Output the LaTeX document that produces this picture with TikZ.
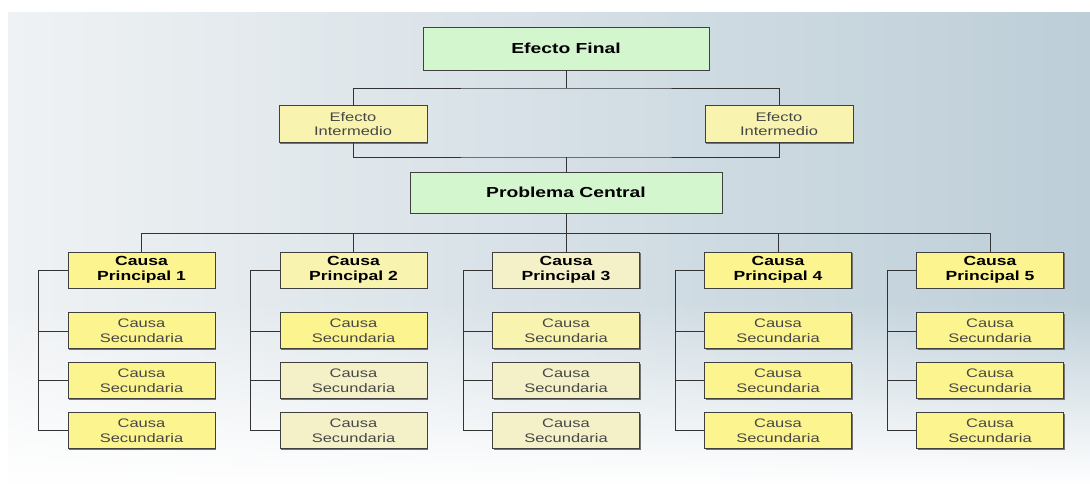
\documentclass[tikz,border=0pt]{standalone}
\usepackage{fontspec}
\setsansfont{Liberation Sans}[FakeStretch=1.33]
\usetikzlibrary{positioning,shadows,fadings}
\definecolor{bgl}{HTML}{EFF2F4}
\definecolor{bgr}{HTML}{BDCED8}
\definecolor{fgreen}{HTML}{D3F6CF}
\definecolor{ymain}{HTML}{FCF48F}
\definecolor{ymid}{HTML}{F8F3AE}
\definecolor{ypale}{HTML}{F4F1C9}

\begin{document}
\begin{tikzpicture}[
  x=1pt, y=-1pt,
  box/.style={fill=#1, draw=black!75, line width=0.9pt, minimum width=147pt, minimum height=36pt,
              inner sep=0pt, align=center, text=black!72, font=\sffamily\fontsize{12.4}{14.8}\selectfont,
              drop shadow={shadow xshift=1.2pt, shadow yshift=-1.2pt, fill=black!55, opacity=1}},
  bbox/.style={box=#1, text=black, font=\sffamily\bfseries\fontsize{13.2}{15.5}\selectfont},
  hdbox/.style={bbox=#1, font=\sffamily\bfseries\fontsize{14.5}{16}\selectfont},
  link/.style={draw=black!80, line width=0.8pt},
]
\useasboundingbox (0,0) rectangle (1090,484);
% Background panel
\fill[left color=bgl, right color=bgr] (8,13) rectangle (1090,484);
\fill[white, path fading=north] (8,300) rectangle (1090,484);

% Effects and central problem
\node[hdbox=fgreen, minimum width=286pt, minimum height=43pt] (ef) at (566,48.5) {Efecto Final};
\node[box=ymid, minimum width=148pt, minimum height=37pt] (ei1) at (353,124) {Efecto\\Intermedio};
\node[box=ymid, minimum width=148pt, minimum height=37pt] (ei2) at (779,124) {Efecto\\Intermedio};
\node[hdbox=fgreen, minimum width=312pt, minimum height=41pt] (pc) at (566,192.5) {Problema Central};
\coordinate (b1) at (566,88);
\coordinate (b2) at (566,157);
\coordinate (b3) at (566,233);
\draw[link] (ef.south) -- (b1);
\draw[link] (ei1.north) |- (b1) -| (ei2.north);
\draw[link] (ei1.south) |- (b2) -| (ei2.south);
\draw[link] (b2) -- (pc.north);
\draw[link] (pc.south) -- (b3);

% Column 1
\node[bbox=ymain] (c1) at (141.5,270) {Causa\\Principal 1};
\node[box=ymain, below=24pt of c1] (s11) {Causa\\Secundaria};
\node[box=ymain, below=13pt of s11] (s12) {Causa\\Secundaria};
\node[box=ymain, below=13pt of s12] (s13) {Causa\\Secundaria};
\draw[link] (c1.west) -- ++(-29,0) |- (s13.west);
\draw[link] (s11.west) -- ++(-29,0);
\draw[link] (s12.west) -- ++(-29,0);

% Column 2
\node[bbox=ymid] (c2) at (353.5,270) {Causa\\Principal 2};
\node[box=ymain, below=24pt of c2] (s21) {Causa\\Secundaria};
\node[box=ypale, below=13pt of s21] (s22) {Causa\\Secundaria};
\node[box=ypale, below=13pt of s22] (s23) {Causa\\Secundaria};
\draw[link] (c2.west) -- ++(-29,0) |- (s23.west);
\draw[link] (s21.west) -- ++(-29,0);
\draw[link] (s22.west) -- ++(-29,0);

% Column 3
\node[bbox=ypale] (c3) at (566,270) {Causa\\Principal 3};
\node[box=ymid, below=24pt of c3] (s31) {Causa\\Secundaria};
\node[box=ypale, below=13pt of s31] (s32) {Causa\\Secundaria};
\node[box=ypale, below=13pt of s32] (s33) {Causa\\Secundaria};
\draw[link] (c3.west) -- ++(-29,0) |- (s33.west);
\draw[link] (s31.west) -- ++(-29,0);
\draw[link] (s32.west) -- ++(-29,0);

% Column 4
\node[bbox=ymain] (c4) at (778,270) {Causa\\Principal 4};
\node[box=ymain, below=24pt of c4] (s41) {Causa\\Secundaria};
\node[box=ymain, below=13pt of s41] (s42) {Causa\\Secundaria};
\node[box=ymain, below=13pt of s42] (s43) {Causa\\Secundaria};
\draw[link] (c4.west) -- ++(-29,0) |- (s43.west);
\draw[link] (s41.west) -- ++(-29,0);
\draw[link] (s42.west) -- ++(-29,0);

% Column 5
\node[bbox=ymain] (c5) at (990,270) {Causa\\Principal 5};
\node[box=ymain, below=24pt of c5] (s51) {Causa\\Secundaria};
\node[box=ymain, below=13pt of s51] (s52) {Causa\\Secundaria};
\node[box=ymain, below=13pt of s52] (s53) {Causa\\Secundaria};
\draw[link] (c5.west) -- ++(-29,0) |- (s53.west);
\draw[link] (s51.west) -- ++(-29,0);
\draw[link] (s52.west) -- ++(-29,0);

% Cause bus
\draw[link] (c1.north) |- (b3) -| (c5.north);
\draw[link] (c2.north) |- (b3);
\draw[link] (c4.north) |- (b3);
\draw[link] (c3.north) -- (b3);
\end{tikzpicture}
\end{document}
